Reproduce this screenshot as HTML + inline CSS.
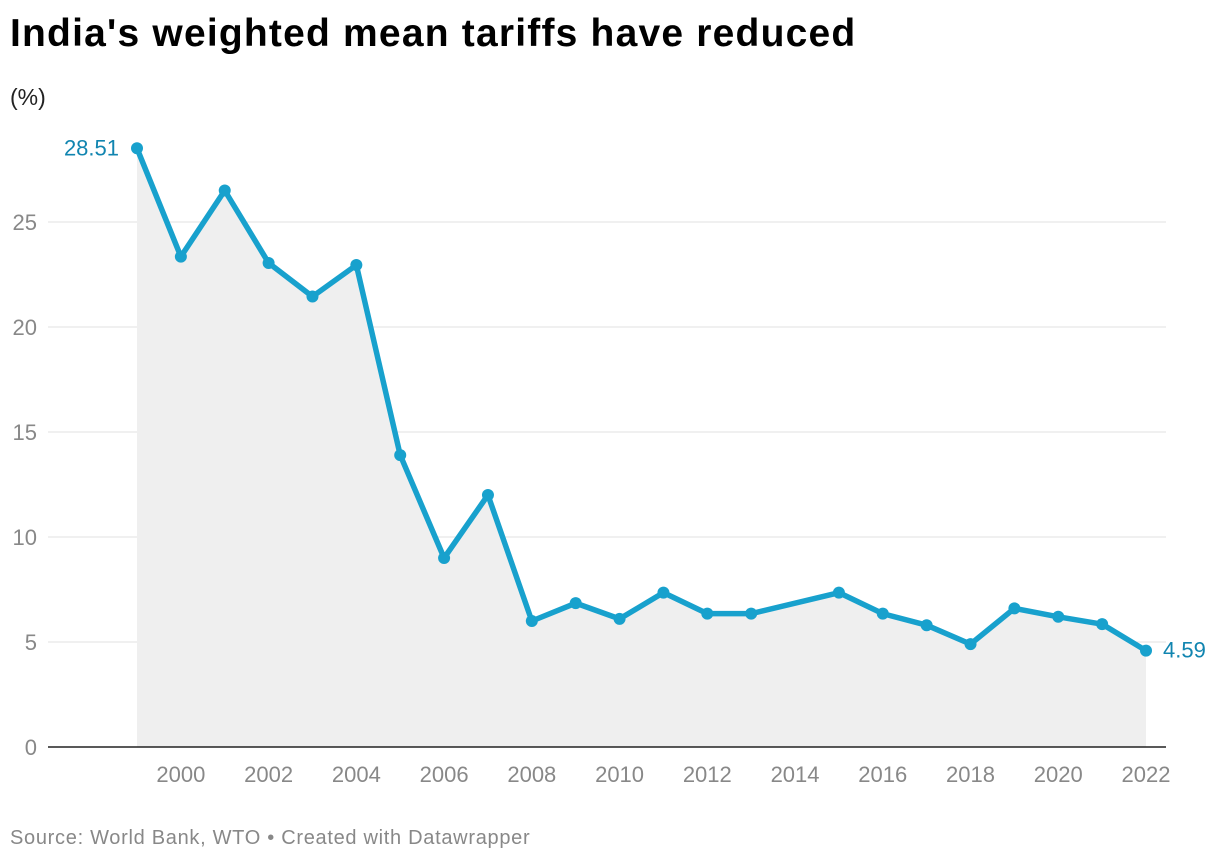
<!DOCTYPE html>
<html><head><meta charset="utf-8"><style>
body{margin:0;background:#fff;font-family:"Liberation Sans",Arial,sans-serif;}
#wrap{position:relative;width:1220px;height:864px;overflow:hidden;}
h1{position:absolute;left:10px;top:12px;margin:0;font-size:39px;font-weight:bold;color:#000;letter-spacing:1.2px;}
.unit{position:absolute;left:10px;top:84px;font-size:23px;color:#222;}
.src{position:absolute;left:10px;top:827px;font-size:20px;color:#888;letter-spacing:0.7px;}
svg{position:absolute;left:0;top:0;}
</style></head><body>
<div id="wrap">
<h1>India's weighted mean tariffs have reduced</h1>
<div class="unit">(%)</div>
<svg id="chart" width="1220" height="864"></svg>
<div class="src">Source: World Bank, WTO • Created with Datawrapper</div>
</div>
<script>
const years=[1999,2000,2001,2002,2003,2004,2005,2006,2007,2008,2009,2010,2011,2012,2013,2015,2016,2017,2018,2019,2020,2021,2022];
const tariffs=[28.51,23.35,26.5,23.05,21.45,22.95,13.9,9.0,12.0,6.0,6.85,6.1,7.35,6.35,6.35,7.35,6.35,5.8,4.9,6.6,6.2,5.85,4.59];
const yTicks=[0,5,10,15,20,25];
const xTicks=[2000,2002,2004,2006,2008,2010,2012,2014,2016,2018,2020,2022];
const NS="http://www.w3.org/2000/svg";
const svg=document.getElementById('chart');
const x=v=>137+(v-1999)*(1146-137)/23;
const y=v=>747-v*21;
function mk(t,a){const e=document.createElementNS(NS,t);for(const k in a)e.setAttribute(k,a[k]);svg.appendChild(e);return e;}
yTicks.forEach(t=>{
 if(t>0){const g=mk('line',{x1:48,x2:1166,y1:y(t),y2:y(t),stroke:'#e0e0e0','stroke-width':1});
 
 }
 const l=mk('text',{x:37,y:y(t)+8,'text-anchor':'end','font-size':22,fill:'#888','font-family':'Liberation Sans, sans-serif'});
 l.textContent=t;
 
 
});
let d='M'+x(years[0])+','+y(0);
years.forEach((yr,i)=>d+=' L'+x(yr)+','+y(tariffs[i]));
d+=' L'+x(years[years.length-1])+','+y(0)+' Z';
const area=mk('path',{d:d,fill:'#efefef'});


const base=mk('line',{x1:48,x2:1166,y1:y(0),y2:y(0),stroke:'#222','stroke-width':1.5});


xTicks.forEach(t=>{
 const l=mk('text',{x:x(t),y:782,'text-anchor':'middle','font-size':22,fill:'#888','font-family':'Liberation Sans, sans-serif'});
 l.textContent=t;
 
 
});
const line=mk('polyline',{points:years.map((yr,i)=>x(yr)+','+y(tariffs[i])).join(' '),fill:'none',stroke:'#18a1cd','stroke-width':5.5,'stroke-linejoin':'round'});


years.forEach((yr,i)=>{
 const c=mk('circle',{cx:x(yr),cy:y(tariffs[i]),r:6,fill:'#18a1cd'});
 
 
});
const f=mk('text',{x:x(years[0])-18,y:y(tariffs[0])+7,'text-anchor':'end','font-size':22,fill:'#1185b0','font-family':'Liberation Sans, sans-serif'});
f.textContent=tariffs[0].toFixed(2);


const n=years.length-1;
const lv=mk('text',{x:x(years[n])+17,y:y(tariffs[n])+7,'text-anchor':'start','font-size':22,fill:'#1185b0','font-family':'Liberation Sans, sans-serif'});
lv.textContent=tariffs[n].toFixed(2);


</script>
</body></html>
